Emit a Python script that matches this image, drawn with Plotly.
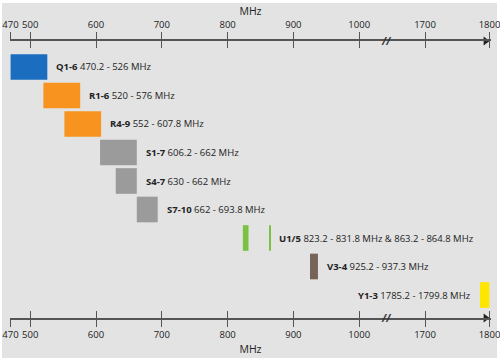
import plotly.graph_objects as go

# ---- data ----
names = ["Q1-6", "R1-6", "R4-9", "S1-7", "S4-7", "S7-10", "U1/5", "U1/5", "V3-4", "Y1-3"]
rows = [0, 1, 2, 3, 4, 5, 6, 6, 7, 8]
starts = [470.2, 520, 552, 606.2, 630, 662, 823.2, 863.2, 925.2, 1785.2]
ends = [526, 576, 607.8, 662, 662, 693.8, 831.8, 864.8, 937.3, 1799.8]
colors = ["#1b6ebf", "#f7931e", "#f7931e", "#9b9b9b", "#9b9b9b", "#9b9b9b",
          "#7cc242", "#7cc242", "#76645a", "#ffe600"]
label_rows = [0, 1, 2, 3, 4, 5, 6, 7, 8]
label_names = ["Q1-6", "R1-6", "R4-9", "S1-7", "S4-7", "S7-10", "U1/5", "V3-4", "Y1-3"]
label_ranges = ["470.2 - 526 MHz", "520 - 576 MHz", "552 - 607.8 MHz", "606.2 - 662 MHz",
                "630 - 662 MHz", "662 - 693.8 MHz",
                "823.2 - 831.8 MHz &amp; 863.2 - 864.8 MHz", "925.2 - 937.3 MHz",
                "1785.2 - 1799.8 MHz"]
label_anchor_mhz = [526, 576, 607.8, 662, 662, 693.8, 864.8, 937.3, 1785.2]
label_side = ["right"] * 8 + ["left"]
tick_mhz = [470, 500, 600, 700, 800, 900, 1000, 1700, 1800]
tick_text = ["470", "500", "600", "700", "800", "900", "1000", "1700", "1800"]
break_mhz = 1640


# broken axis: compress 1000..1700 gap
def fx(v):
    if v >= 1600:
        return 1100 + (v - 1700) * 0.98
    return v


FONT = "Open Sans"
TXT = "#222222"
AX = "#555555"

fig = go.Figure()
for n, r, s, e, c in zip(names, rows, starts, ends, colors):
    fig.add_trace(go.Bar(
        y=[r], base=[fx(s)], x=[fx(e) - fx(s)], orientation="h",
        marker=dict(color=c, line=dict(width=0)), width=0.9,
        showlegend=False, hoverinfo="skip"))

# invisible traces to activate extra axes
for ax in ["x2", "x3", "x4"]:
    fig.add_trace(go.Scatter(x=[fx(470)], y=[0], xaxis=ax, mode="markers",
                             marker=dict(opacity=0), showlegend=False, hoverinfo="skip"))

# arrowheads at axis ends
for yv in [-0.912, 8.807]:
    fig.add_trace(go.Scatter(x=[fx(1794)], y=[yv], mode="markers",
                             marker=dict(symbol="triangle-right", size=8, color="#222"),
                             cliponaxis=False, showlegend=False, hoverinfo="skip"))

ann = []
for r, nm, rg, a, side in zip(label_rows, label_names, label_ranges, label_anchor_mhz, label_side):
    ann.append(dict(x=fx(a), y=r, xref="x", yref="y",
                    text=f"<b>{nm}</b> {rg}", showarrow=False,
                    xanchor="left" if side == "right" else "right",
                    xshift=7 if side == "right" else -7,
                    font=dict(family=FONT, size=9.5, color=TXT)))
for yp in [1, 0]:
    ann.append(dict(x=fx(break_mhz), y=yp, xref="x", yref="paper", text="<b><i>//</i></b>",
                    showarrow=False, font=dict(family=FONT, size=10, color="#333"),
                    xanchor="center", yanchor="middle"))

tv = [fx(t) for t in tick_mhz]
xr = [469.3, 1200.3]
common = dict(range=xr, showgrid=False, zeroline=False, showline=True, automargin=False,
              linecolor=AX, linewidth=1.5, tickcolor=AX, tickwidth=1.2, ticklen=7,
              tickvals=tv, ticktext=tick_text, ticklabeloverflow="allow",
              tickfont=dict(family=FONT, size=9.5, color=TXT))

# gray panel behind (pixel coords converted to paper)
L, R, T, B = 10, 491, 41, 318
def px(p): return (p - L) / (R - L)
def py(p): return (B - p) / (B - T)

fig.update_layout(
    width=500, height=362,
    margin=dict(l=L, r=500 - R, t=T, b=362 - B, autoexpand=False),
    paper_bgcolor="white", plot_bgcolor="rgba(0,0,0,0)",
    barmode="overlay",
    xaxis=dict(**common, side="bottom", ticks="outside",
               title=dict(text="MHz", font=dict(family=FONT, size=10.5, color=TXT), standoff=5)),
    xaxis2=dict(**common, side="top", overlaying="x", ticks="outside", anchor="y",
                title=dict(text="MHz", font=dict(family=FONT, size=10.5, color=TXT), standoff=1)),
    xaxis3=dict(**common, side="bottom", overlaying="x", ticks="inside", showticklabels=False, anchor="y"),
    xaxis4=dict(**common, side="top", overlaying="x", ticks="inside", showticklabels=False, anchor="y"),
    yaxis=dict(range=[8.807, -0.912], showgrid=False, zeroline=False, showticklabels=False,
               showline=False, ticks="", automargin=False),
    annotations=ann,
    shapes=[dict(type="rect", xref="paper", yref="paper", x0=px(2), x1=px(497),
                 y0=py(358), y1=py(3), fillcolor="#e3e3e3", line=dict(width=0), layer="below")],
)

fig.write_html("out.html", config={"displayModeBar": False},
               post_script="document.body.style.margin='0';document.body.style.overflow='hidden';")
